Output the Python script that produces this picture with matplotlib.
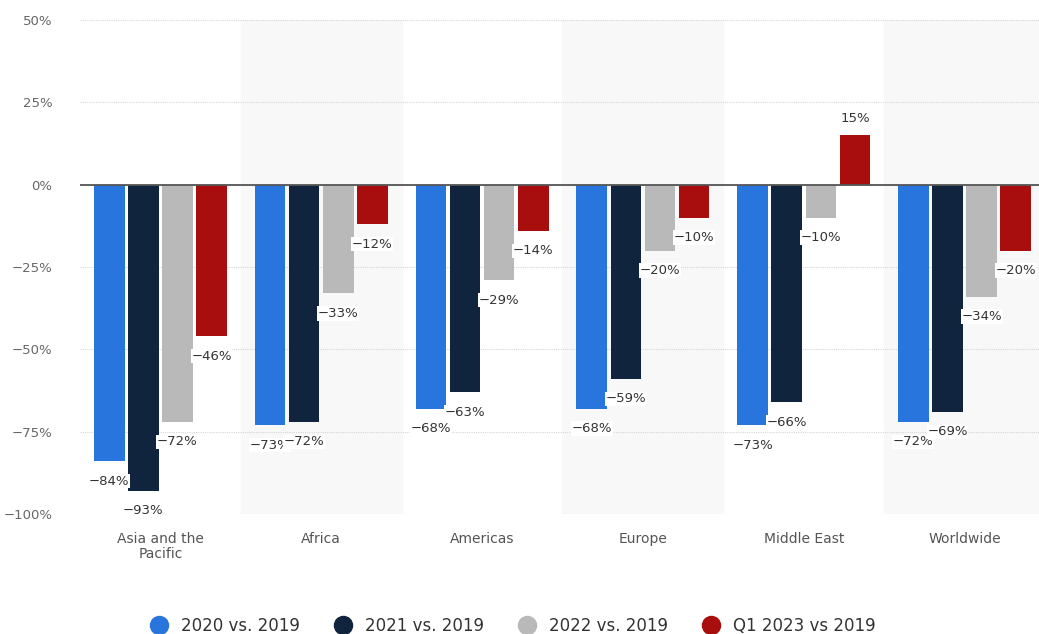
import numpy as np
import matplotlib
matplotlib.use('Agg')
import matplotlib.pyplot as plt
from matplotlib.lines import Line2D

# Data
regions = ['Asia and the\nPacific', 'Africa', 'Americas', 'Europe', 'Middle East', 'Worldwide']
series_names = ['2020 vs. 2019', '2021 vs. 2019', '2022 vs. 2019', 'Q1 2023 vs 2019']
vals_2020 = [-84, -73, -68, -68, -73, -72]
vals_2021 = [-93, -72, -63, -59, -66, -69]
vals_2022 = [-72, -33, -29, -20, -10, -34]
vals_q1_2023 = [-46, -12, -14, -10, 15, -20]
yticks = [-100, -75, -50, -25, 0, 25, 50]

colors = ['#2876dd', '#10243d', '#b9b9b9', '#a80e0e']
series = [vals_2020, vals_2021, vals_2022, vals_q1_2023]

fig = plt.figure(figsize=(10.39, 6.34), dpi=100)
# plot area runs slightly past the right edge, as in the reference
ax = fig.add_axes([80 / 1039, 1 - 514 / 634, (1045 - 80) / 1039, 494 / 634])

x = np.arange(len(regions))
width = 0.19
step = 0.212

# alternating light bands
for i in range(1, len(regions), 2):
    ax.axvspan(i - 0.5, i + 0.5, color='#f8f8f8', zorder=0)

for k, (vals, col) in enumerate(zip(series, colors)):
    xs = x + (k - 1.5) * step
    ax.bar(xs, vals, width=width, color=col, zorder=3)
    for xi, v in zip(xs, vals):
        txt = f'{v}%'.replace('-', '\u2212')
        off = -20 if v < 0 else 17
        ax.annotate(txt, (xi, v), xytext=(0, off), textcoords='offset pixels',
                    ha='center', va='center', fontsize=9.5, color='#333333', zorder=5,
                    bbox=dict(boxstyle='square,pad=0.05', fc='white', ec='none'))

ax.axhline(0, color='#555555', lw=1.3, zorder=4)
ax.set_ylim(-100, 50)
ax.set_xlim(-0.5, 5.5)
ax.set_yticks(yticks)
ax.set_yticklabels([f'{t}%'.replace('-', '\u2212') for t in yticks])
ax.yaxis.grid(True, linestyle=(0, (1, 1)), color='#d6d6d6', lw=0.8, zorder=1)
ax.set_axisbelow(True)
ax.set_xticks(x)
ax.set_xticklabels(regions, fontsize=10, color='#555555', linespacing=1.1)
ax.tick_params(axis='y', length=0, pad=20, labelsize=9.5, labelcolor='#666666')
ax.tick_params(axis='x', length=0, pad=13)
for s in ax.spines.values():
    s.set_visible(False)

handles = [Line2D([], [], marker='o', ls='none', markersize=13, color=c) for c in colors]
fig.legend(handles, series_names, loc='center', bbox_to_anchor=(0.49, 0.013), ncol=4,
           frameon=False, fontsize=12, handletextpad=0.3, columnspacing=1.6,
           labelcolor='#333333')

fig.savefig('out.png', dpi=100)
